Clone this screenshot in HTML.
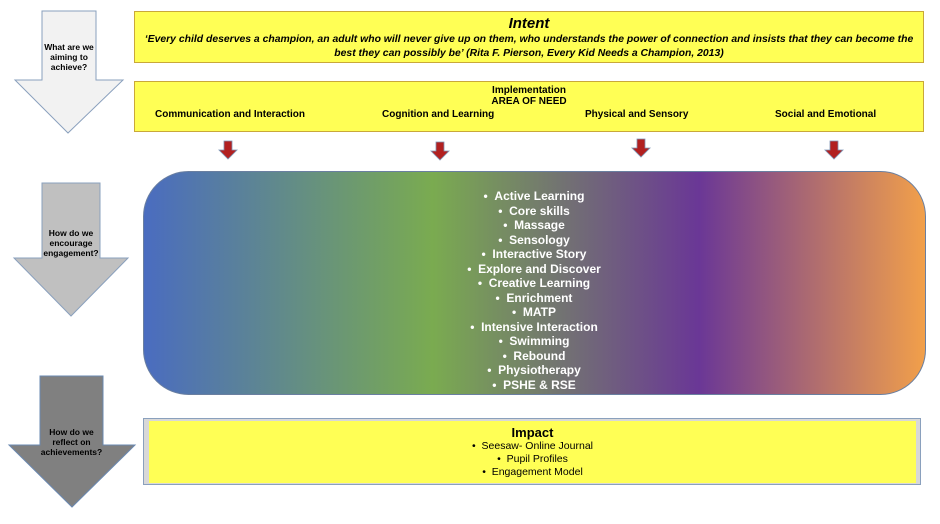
<!DOCTYPE html>
<html><head><meta charset="utf-8"><style>
body{margin:0;width:940px;height:524px;background:#fff;position:relative;overflow:hidden;font-family:"Liberation Sans",Arial,sans-serif}
.a{position:absolute}
.y{background:#ffff55;border:1px solid #c9a83a;box-sizing:border-box}
.lbl{position:absolute;font-weight:bold;font-size:8.5px;text-align:center;line-height:10px}
</style></head><body>
<svg class="a" style="left:0;top:0" width="940" height="524">
<polygon points="42,11 96,11 96,80 123,80 68,133 15,80 42,80" fill="#f2f2f2" stroke="#8aa0bd" stroke-width="1"/>
<polygon points="42,183 100,183 100,258 128,258 71,316 14,258 42,258" fill="#c0c0c0" stroke="#8aa0bd" stroke-width="1"/>
<polygon points="40,376 103,376 103,445 135,445 72,507 9,445 40,445" fill="#808080" stroke="#6a88b0" stroke-width="1"/>
<defs><linearGradient id="g" x1="0" x2="1"><stop offset="0" stop-color="#4a6cc0"/><stop offset="0.37" stop-color="#7aab50"/><stop offset="0.71" stop-color="#6a3796"/><stop offset="1" stop-color="#f2a04a"/></linearGradient>
<g id="ar"><polygon points="-4,0 4,0 4,9 9,9 0,18 -9,9 -4,9" fill="#b22020" stroke="#7f95b5" stroke-width="0.8"/></g></defs>
<rect x="143.5" y="171.5" width="782" height="223" rx="45" fill="url(#g)" stroke="#6a7fa0"/>
<use href="#ar" x="228" y="141"/><use href="#ar" x="440" y="142"/><use href="#ar" x="641" y="139"/><use href="#ar" x="834" y="141"/>
<rect x="143.5" y="418.5" width="777" height="66" fill="#d8d8d8" stroke="#8aa0bd"/>
<rect x="149" y="421" width="767" height="62" fill="#ffff55"/>
</svg>
<div class="lbl" style="left:44px;top:42px;width:50px">What are we aiming to achieve?</div>
<div class="lbl" style="left:42px;top:228px;width:58px">How do we encourage engagement?</div>
<div class="lbl" style="left:40px;top:427px;width:63px">How do we reflect on achievements?</div>
<div class="a y" style="left:134px;top:11px;width:790px;height:52px;text-align:center">
<div style="font-weight:bold;font-style:italic;font-size:15px;margin-top:3px">Intent</div>
<div style="font-weight:bold;font-style:italic;font-size:10.4px;line-height:14px;margin-top:1px;padding:0 4px">‘Every child deserves a champion, an adult who will never give up on them, who understands the power of connection and insists that they can become the best they can possibly be’ (Rita F. Pierson, Every Kid Needs a Champion, 2013)</div>
</div>
<div class="a y" style="left:134px;top:81px;width:790px;height:51px">
<div style="position:absolute;left:0;width:100%;top:3px;text-align:center;font-weight:bold;font-size:10px;line-height:11px">Implementation<br>AREA OF NEED</div>
<div style="position:absolute;left:20px;top:27px;font-weight:bold;font-size:10px">Communication and Interaction</div>
<div style="position:absolute;left:247px;top:27px;font-weight:bold;font-size:10px">Cognition and Learning</div>
<div style="position:absolute;left:450px;top:27px;font-weight:bold;font-size:10px">Physical and Sensory</div>
<div style="position:absolute;left:640px;top:27px;font-weight:bold;font-size:10px">Social and Emotional</div>
</div>
<div class="a" style="left:143px;top:189px;width:782px;text-align:center;color:#fff;font-weight:bold;font-size:12px;line-height:14.5px">
<div>•&nbsp;&nbsp;Active Learning</div><div>•&nbsp;&nbsp;Core skills</div><div>•&nbsp;&nbsp;Massage</div><div>•&nbsp;&nbsp;Sensology</div><div>•&nbsp;&nbsp;Interactive Story</div><div>•&nbsp;&nbsp;Explore and Discover</div><div>•&nbsp;&nbsp;Creative Learning</div><div>•&nbsp;&nbsp;Enrichment</div><div>•&nbsp;&nbsp;MATP</div><div>•&nbsp;&nbsp;Intensive Interaction</div><div>•&nbsp;&nbsp;Swimming</div><div>•&nbsp;&nbsp;Rebound</div><div>•&nbsp;&nbsp;Physiotherapy</div><div>•&nbsp;&nbsp;PSHE &amp; RSE</div>
</div>
<div class="a" style="left:149px;top:425px;width:767px;text-align:center;font-size:10.5px;line-height:13px">
<div style="font-weight:bold;font-size:13px;line-height:15px">Impact</div>
<div>•&nbsp;&nbsp;Seesaw- Online Journal</div><div>•&nbsp;&nbsp;Pupil Profiles</div><div>•&nbsp;&nbsp;Engagement Model</div>
</div>
</body></html>
